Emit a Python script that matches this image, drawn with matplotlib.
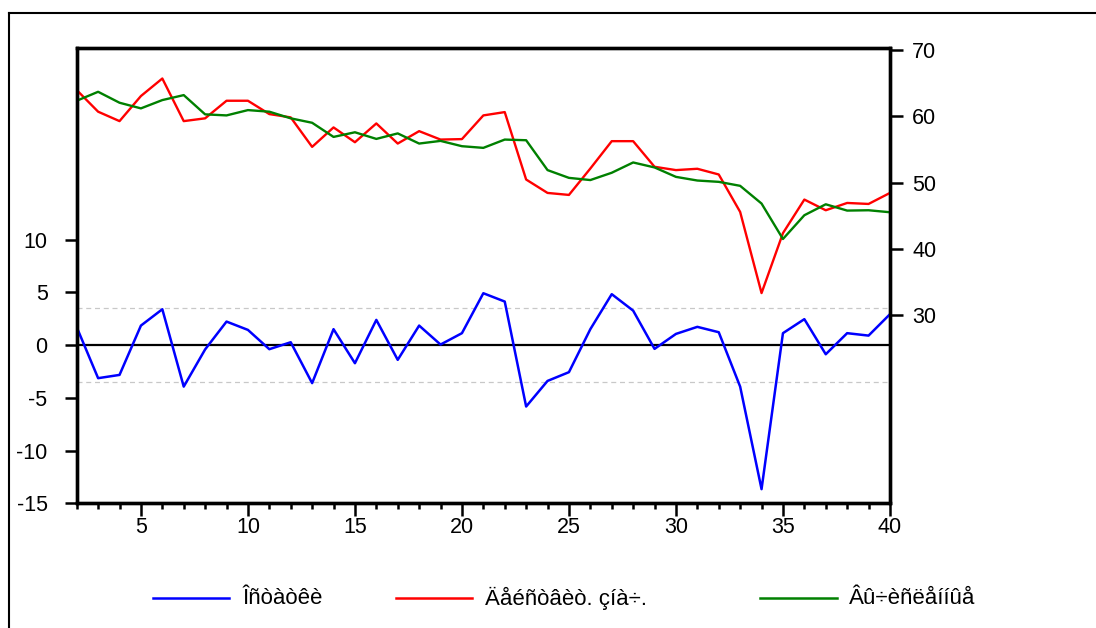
import matplotlib
matplotlib.use('Agg')
import matplotlib.pyplot as plt
from matplotlib.lines import Line2D
import numpy as np

# observations
obs = np.arange(2, 41)

# residuals (left axis)
resid = [1.71, -3.13, -2.82, 1.86, 3.41, -3.93, -0.4, 2.24, 1.45, -0.38,
         0.28, -3.6, 1.52, -1.71, 2.4, -1.39, 1.86, 0.06, 1.14, 4.93,
         4.14, -5.82, -3.39, -2.56, 1.52, 4.84, 3.28, -0.35, 1.07, 1.74,
         1.23, -3.93, -13.66, 1.14, 2.47, -0.86, 1.14, 0.91, 2.94]

# actual values (right axis)
actual = [63.96, 60.7, 59.28, 63.06, 65.7, 59.28, 59.7, 62.35, 62.35, 60.34,
          59.84, 55.4, 58.33, 56.1, 58.93, 55.9, 57.77, 56.5, 56.57, 60.14,
          60.64, 50.48, 48.46, 48.16, 52.14, 56.26, 56.26, 52.4, 51.9, 52.1,
          51.24, 45.6, 33.37, 42.4, 47.46, 45.85, 46.95, 46.8, 48.46]

# fitted values (right axis)
fitted = [62.35, 63.7, 62.05, 61.2, 62.45, 63.2, 60.3, 60.14, 60.94, 60.7,
          59.7, 59.03, 56.9, 57.6, 56.6, 57.43, 55.9, 56.3, 55.5, 55.25,
          56.5, 56.4, 51.9, 50.73, 50.4, 51.5, 53.05, 52.3, 50.88, 50.33,
          50.13, 49.53, 46.86, 41.52, 45.1, 46.75, 45.8, 45.85, 45.55]

se = 3.5

legend_labels = ['Îñòàòêè', 'Äåéñòâèò. çíà÷.', 'Âû÷èñëåííûå']

plt.rcParams['font.family'] = ['Liberation Sans', 'DejaVu Sans']
plt.rcParams['axes.unicode_minus'] = False

fig = plt.figure(figsize=(10.96, 6.28), dpi=100)
ax = fig.add_axes([0.070, 0.1986, 0.742, 0.725])
ax2 = ax.twinx()

# residual panel
ax.axhline(0, color='black', lw=1.6, zorder=1)
ax.axhline(se, color='#c8c8c8', lw=0.9, ls='--', dashes=(4, 3), zorder=1)
ax.axhline(-se, color='#c8c8c8', lw=0.9, ls='--', dashes=(4, 3), zorder=1)
ax.plot(obs, resid, color='blue', lw=1.8, zorder=3)

ax2.plot(obs, actual, color='red', lw=1.7)
ax2.plot(obs, fitted, color='green', lw=1.7)

ax.set_xlim(2, 40)
ax.set_ylim(-15, 28.2)
ax2.set_ylim(1.7, 70.3)

ax.set_yticks([-15, -10, -5, 0, 5, 10])
ax2.set_yticks([30, 40, 50, 60, 70])
ax.set_xticks(np.arange(5, 41, 5))
ax.set_xticks(obs, minor=True)

ax.tick_params(axis='y', direction='out', length=9, width=1.8, labelsize=15.5, pad=12)
ax2.tick_params(axis='y', direction='out', length=9, width=1.8, labelsize=15.5, pad=7)
ax.tick_params(axis='x', which='major', direction='out', length=9, width=1.8, labelsize=15.5, pad=1)
ax.tick_params(axis='x', which='minor', direction='out', length=4.5, width=1.8)

for a in (ax, ax2):
    for s in a.spines.values():
        s.set_linewidth(2.4)

# outer frame (top and left edges)
fig.add_artist(Line2D([9 / 1096, 1.0], [1 - 13 / 628, 1 - 13 / 628], transform=fig.transFigure,
                      color='black', lw=1.5))
fig.add_artist(Line2D([9 / 1096, 9 / 1096], [0.0, 1 - 13 / 628], transform=fig.transFigure,
                      color='black', lw=1.5))

# legend drawn underneath
ly = 1 - 598 / 628
entries = [(153, 229, 242, 'blue'), (396, 472, 485, 'red'), (760, 837, 849, 'green')]
for (x0, x1, xt, c), lab in zip(entries, legend_labels):
    fig.add_artist(Line2D([x0 / 1096, x1 / 1096], [ly, ly], transform=fig.transFigure,
                          color=c, lw=1.8))
    fig.text(xt / 1096, ly, lab, fontsize=16, va='center', ha='left')

fig.savefig('out.png', dpi=100)
